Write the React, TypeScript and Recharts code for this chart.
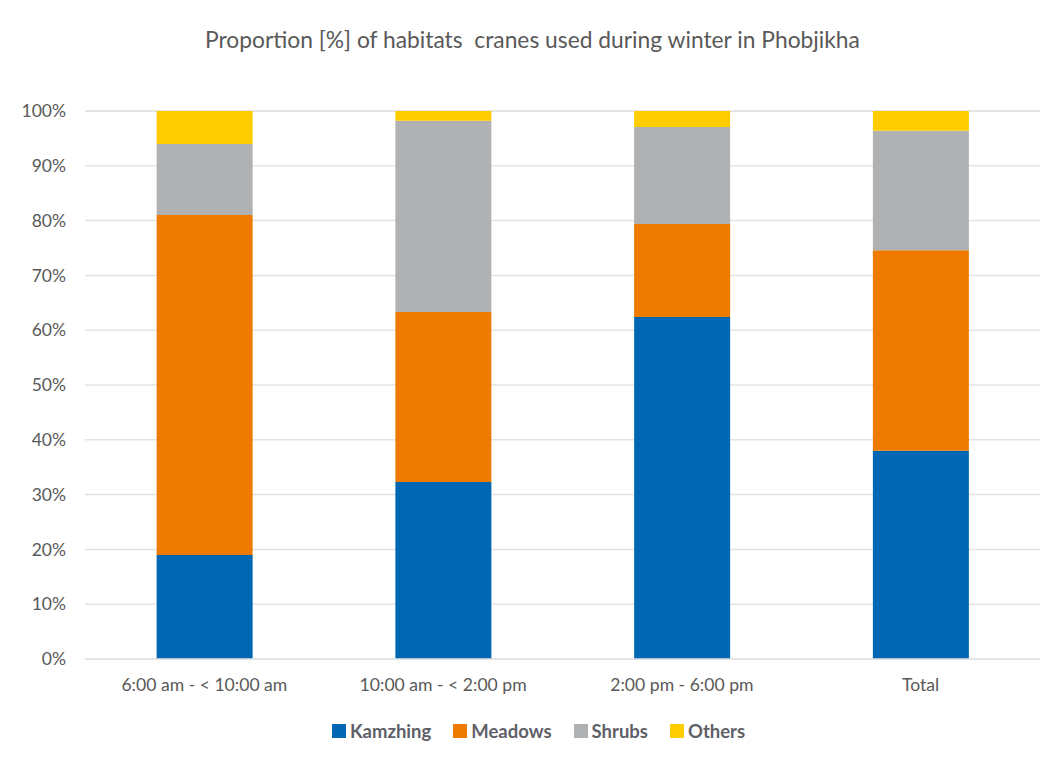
import { BarChart, Bar, XAxis, YAxis, CartesianGrid, Legend } from 'recharts';

const periods = ['6:00 am - < 10:00 am', '10:00 am - < 2:00 pm', '2:00 pm - 6:00 pm', 'Total'];
const kamzhing = [19.0, 32.3, 62.4, 38.0];
const meadows = [62.0, 31.0, 17.0, 36.6];
const shrubs = [13.0, 34.9, 17.7, 21.8];
const others = [6.0, 1.8, 2.9, 3.6];
const yTicks = [0, 10, 20, 30, 40, 50, 60, 70, 80, 90, 100];

const series = [
  { key: 'Kamzhing', color: '#0068B2' },
  { key: 'Meadows', color: '#EE7A00' },
  { key: 'Shrubs', color: '#B0B1B3' },
  { key: 'Others', color: '#FFCC00' },
];

const data = periods.map((p, i) => ({
  name: p,
  Kamzhing: kamzhing[i],
  Meadows: meadows[i],
  Shrubs: shrubs[i],
  Others: others[i],
}));

const FONT = 'Lato, "Open Sans", sans-serif';
const TEXT = '#595959';

const LegendRow = () => (
  <div style={{ display: 'flex', justifyContent: 'center', gap: 22, fontFamily: FONT, height: 22 }}>
    {series.map((s) => (
      <div key={s.key} style={{ display: 'flex', alignItems: 'center' }}>
        <span style={{ width: 14, height: 14, background: s.color, display: 'inline-block', marginRight: 4 }} />
        <span style={{ fontSize: 18.5, fontWeight: 700, color: '#5f5f68' }}>{s.key}</span>
      </div>
    ))}
  </div>
);

export default function App() {
  return (
    <div style={{ position: 'relative', width: 1055, height: 760, margin: -8, overflow: 'hidden', background: '#fff' }}>
      <div
        style={{
          position: 'absolute',
          left: 5,
          top: 5,
          width: 1060,
          height: 770,
          border: '1.5px solid #d9d9d9',
          boxSizing: 'border-box',
        }}
      />
      <div
        style={{
          position: 'absolute',
          top: 25,
          left: 0,
          width: 1065,
          textAlign: 'center',
          fontFamily: FONT,
          fontSize: 22.8,
          color: TEXT,
          whiteSpace: 'pre',
        }}
      >
        Proportion [%] of habitats  cranes used during winter in Phobjikha
      </div>
      <BarChart
        width={1055}
        height={760}
        data={data}
        margin={{ top: 111, right: 15, bottom: 39, left: 0 }}
        barCategoryGap="30%"
        style={{ position: 'absolute', left: 0, top: 0 }}
      >
        <CartesianGrid vertical={false} stroke="#e3e3e3" strokeWidth={1.5} />
        <XAxis
          dataKey="name"
          axisLine={{ stroke: '#e3e3e3', strokeWidth: 1.5 }}
          tickLine={false}
          tickSize={0}
          tickMargin={20}
          height={40}
          tick={{ fill: TEXT, fontSize: 17.6, fontFamily: FONT }}
          interval={0}
        />
        <YAxis
          width={85}
          domain={[0, 100]}
          ticks={yTicks}
          tickFormatter={(v) => `${v}%`}
          axisLine={false}
          tickLine={false}
          tickSize={0}
          tickMargin={19}
          tick={{ fill: TEXT, fontSize: 17.5, fontFamily: FONT }}
        />
        <Legend
          layout="vertical"
          align="center"
          verticalAlign="bottom"
          content={() => <LegendRow />}
          wrapperStyle={{ top: 720, bottom: 'auto', left: 7, width: 1063 }}
        />
        {series.map((s) => (
          <Bar key={s.key} dataKey={s.key} stackId="a" fill={s.color} isAnimationActive={false} />
        ))}
      </BarChart>
    </div>
  );
}
